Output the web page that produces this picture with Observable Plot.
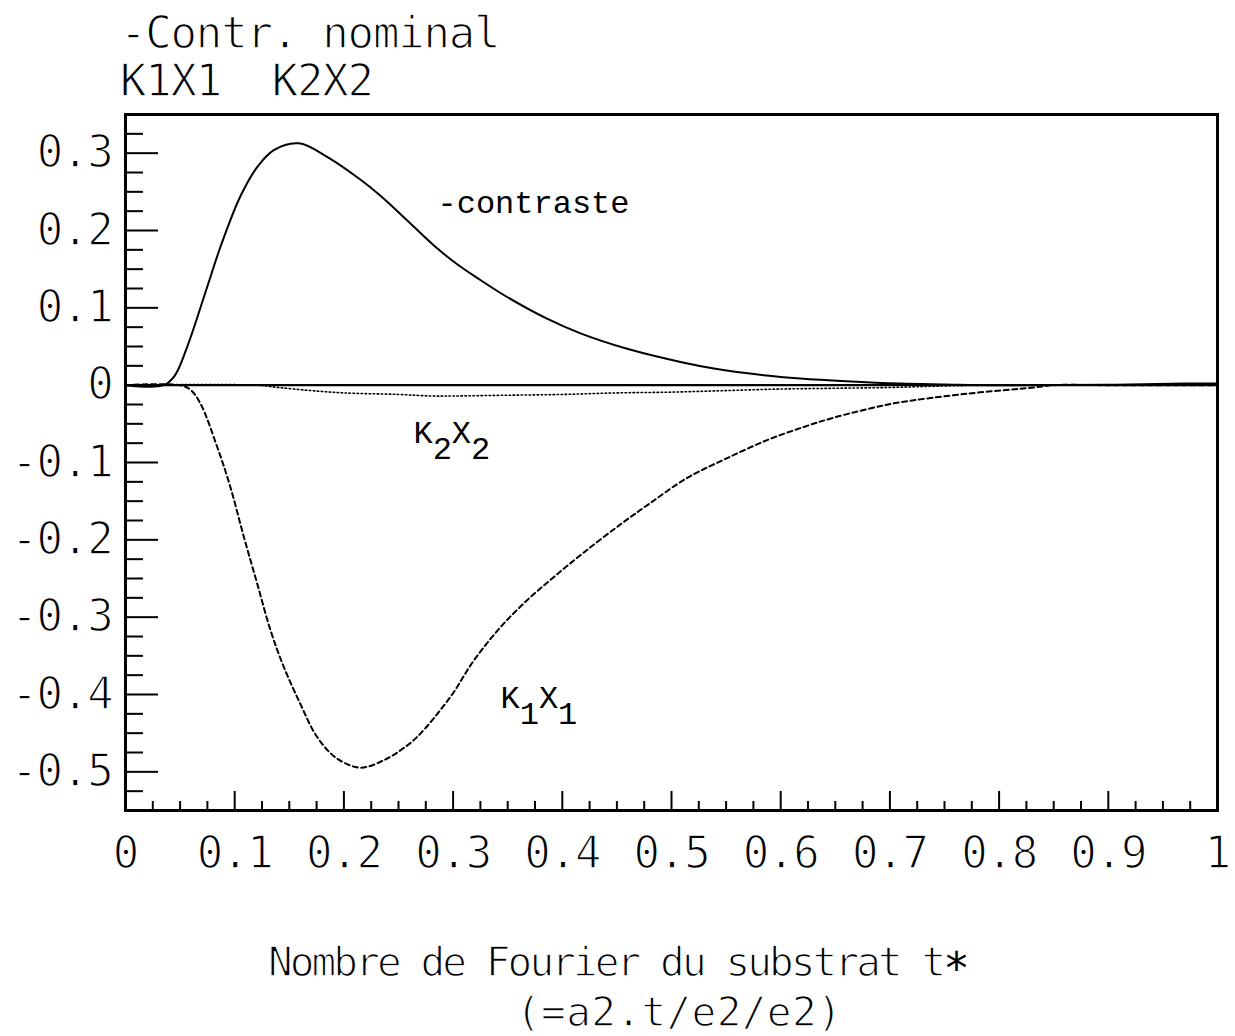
<!DOCTYPE html>
<html><head><meta charset="utf-8">
<script src="https://cdn.jsdelivr.net/npm/d3@7"></script>
<script src="https://cdn.jsdelivr.net/npm/@observablehq/plot@0.6"></script>
<style>
body{margin:0;background:#fff;}
#wrap{position:relative;width:1235px;height:1036px;overflow:hidden;font-family:"DejaVu Sans Mono",monospace;color:#000;background:#fff;}
#chart{position:absolute;left:0;top:0;}
.t{position:absolute;white-space:pre;line-height:1;-webkit-text-stroke:1.3px #fff;paint-order:normal;}
.star{-webkit-text-stroke:0;font-size:44px;line-height:0;position:relative;top:8px;}
#chart svg g[aria-label$="tick label"] text{stroke:#fff;stroke-width:1.4px;paint-order:normal;letter-spacing:-1.2px;}
</style></head><body>
<div id="wrap">
<div id="chart"></div>
<div class="t" style="left:120px;top:11px;font-size:44px;letter-spacing:-1.2px">-Contr. nominal</div>
<div class="t" style="left:120px;top:59px;font-size:44px;letter-spacing:-1.2px">K1X1  K2X2</div>
<div class="t" style="left:268px;top:942px;height:41px;font-size:41px;letter-spacing:-2.9px">Nombre de Fourier du substrat t<span class="star">*</span></div>
<div class="t" style="left:516px;top:992px;font-size:41px;letter-spacing:0.4px">(=a2.t/e2/e2)</div>
</div>
<script>
// -contraste (solid)
const contrasteX = [0, 0.035, 0.045, 0.0565, 0.0748, 0.087, 0.105, 0.1206, 0.1358, 0.1587, 0.1846, 0.215, 0.2335, 0.258, 0.2854, 0.305, 0.325, 0.3495, 0.386, 0.4167, 0.4594, 0.5082, 0.5388, 0.5846, 0.618, 0.66, 0.71, 0.75, 0.8, 0.9, 0.97, 1.0];
const contrasteY = [0, 0, 0.012, 0.0495, 0.127, 0.179, 0.2436, 0.282, 0.304, 0.3127, 0.2953, 0.266, 0.245, 0.213, 0.177, 0.155, 0.136, 0.114, 0.086, 0.067, 0.047, 0.030, 0.0216, 0.0129, 0.0086, 0.005, 0.002, 0.001, 0, 0.0005, 0.002, 0.002];
// K1X1 (dashed)
const k1X = [0, 0.05, 0.0595, 0.0687, 0.084, 0.096, 0.1084, 0.1206, 0.1328, 0.145, 0.16, 0.1755, 0.1938, 0.2152, 0.2365, 0.252, 0.267, 0.2976, 0.319, 0.3434, 0.3678, 0.3923, 0.42, 0.4533, 0.48, 0.5143, 0.55, 0.5876, 0.6212, 0.6486, 0.6914, 0.7097, 0.7708, 0.8315, 0.85, 0.9, 1.0];
const k1Y = [0, 0, -0.006, -0.024, -0.08, -0.1316, -0.1963, -0.2566, -0.317, -0.3645, -0.4118, -0.455, -0.4829, -0.4946, -0.485, -0.472, -0.455, -0.403, -0.356, -0.313, -0.278, -0.248, -0.216, -0.18, -0.153, -0.12, -0.095, -0.071, -0.054, -0.042, -0.027, -0.022, -0.011, -0.003, 0, 0, 0];
// K2X2 (dotted)
const k2X = [0, 0.12, 0.14, 0.17, 0.2, 0.25, 0.28, 0.3, 0.35, 0.4, 0.45, 0.5, 0.55, 0.6, 0.65, 0.7, 0.75, 0.8, 1.0];
const k2Y = [0, 0, -0.003, -0.007, -0.01, -0.012, -0.014, -0.014, -0.013, -0.012, -0.01, -0.009, -0.007, -0.005, -0.004, -0.003, -0.001, 0, 0];

const xMajor = [0, 0.1, 0.2, 0.3, 0.4, 0.5, 0.6, 0.7, 0.8, 0.9, 1];
const xTickLabels = ["0", "0.1", "0.2", "0.3", "0.4", "0.5", "0.6", "0.7", "0.8", "0.9", "1"];
const yMajor = [-0.5, -0.4, -0.3, -0.2, -0.1, 0, 0.1, 0.2, 0.3];
const yTickLabels = ["-0.5", "-0.4", "-0.3", "-0.2", "-0.1", "0", "0.1", "0.2", "0.3"];

const labels = [
  {x: 0.2857, y: 0.223, text: "-contraste"},
  {x: 0.2637, y: -0.0744, text: "K2X2"},
  {x: 0.3434, y: -0.4172, text: "K1X1"}
];

const contraste = contrasteX.map((x, i) => ({x, y: contrasteY[i]}));
const k1 = k1X.map((x, i) => ({x, y: k1Y[i]}));
const k2 = k2X.map((x, i) => ({x, y: k2Y[i]}));
const xMinor = d3.range(0, 40).map(i => i * 0.025).filter(v => Math.abs(v * 10 - Math.round(v * 10)) > 1e-6);
const yMinor = d3.range(0, 37).map(i => -0.55 + i * 0.025).filter(v => Math.abs(v * 10 - Math.round(v * 10)) > 1e-6);

const svg = Plot.plot({
  width: 1235, height: 1036,
  marginLeft: 125, marginRight: 18, marginTop: 114, marginBottom: 226,
  x: {domain: [0, 1]},
  y: {domain: [-0.55, 0.35]},
  style: {fontFamily: "DejaVu Sans Mono", background: "white", color: "black", overflow: "visible"},
  marks: [
    Plot.ruleY([0], {strokeWidth: 2.2}),
    Plot.line(k2, {x: "x", y: "y", strokeWidth: 1.6, strokeDasharray: "1.5,2.5", curve: "catmull-rom"}),
    Plot.line(k1, {x: "x", y: "y", strokeWidth: 2, strokeDasharray: "5,3.5", curve: "catmull-rom"}),
    Plot.line(contraste, {x: "x", y: "y", strokeWidth: 2, curve: "catmull-rom"}),
    Plot.axisX({ticks: xMinor, anchor: "top", frameAnchor: "bottom", tickSize: 10, text: null, label: null, strokeWidth: 2}),
    Plot.axisX({ticks: xMajor, anchor: "top", frameAnchor: "bottom", tickSize: 20, text: null, label: null, strokeWidth: 2}),
    Plot.axisX({ticks: xMajor, anchor: "bottom", tickSize: 0, tickPadding: 26, fontSize: 44,
      tickFormat: d => xTickLabels[xMajor.indexOf(d)], label: null}),
    Plot.axisY({ticks: yMinor, anchor: "right", frameAnchor: "left", tickSize: 17, text: null, label: null, strokeWidth: 2}),
    Plot.axisY({ticks: yMajor, anchor: "right", frameAnchor: "left", tickSize: 32, text: null, label: null, strokeWidth: 2}),
    Plot.axisY({ticks: yMajor, anchor: "left", tickSize: 0, tickPadding: 13, fontSize: 44,
      tickFormat: d => yTickLabels[yMajor.indexOf(d)], label: null}),
    Plot.frame({strokeWidth: 3}),
    Plot.text(labels, {x: "x", y: "y", text: "text", textAnchor: "start", lineAnchor: "bottom",
      fontFamily: "Liberation Mono", fontSize: 32})
  ]
});
document.getElementById("chart").appendChild(svg);

d3.select(svg).selectAll("text").each(function() {
  const m = (this.textContent || "").match(/^K(\d)X(\d)$/);
  if (m && this.childElementCount === 0) {
    const s = d3.select(this);
    s.text(null);
    s.append("tspan").text("K");
    s.append("tspan").attr("dy", 16).text(m[1]);
    s.append("tspan").attr("dy", -16).text("X");
    s.append("tspan").attr("dy", 16).text(m[2]);
  }
});
</script>
</body></html>
